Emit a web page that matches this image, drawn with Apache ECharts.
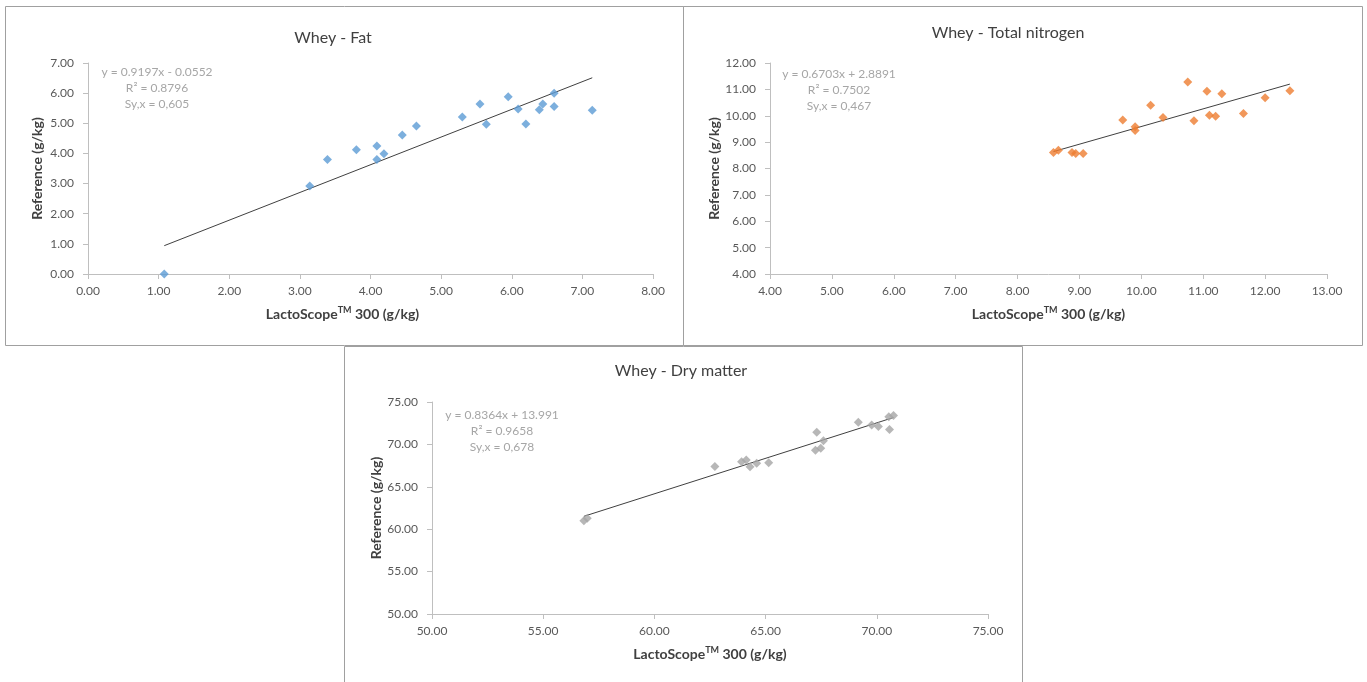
<!DOCTYPE html>
<html>
<head>
<meta charset="utf-8">
<script src="https://cdn.jsdelivr.net/npm/echarts@6/dist/echarts.min.js"></script>
<style>
    html, body { margin: 0; padding: 0; background: #fff; }
    #chart { width: 1367px; height: 682px; }
</style>
</head>
<body>
<div id="chart"></div>
<script>
    // values
    var fatPoints = [
        [1.08, 0.00], [3.14, 2.92], [3.39, 3.80], [3.80, 4.12], [4.09, 4.25],
        [4.09, 3.80], [4.19, 3.99], [4.45, 4.61], [4.65, 4.91], [5.30, 5.21],
        [5.55, 5.64], [5.64, 4.97], [5.95, 5.88], [6.09, 5.47], [6.20, 4.98],
        [6.39, 5.45], [6.44, 5.64], [6.60, 6.00], [6.60, 5.56], [7.14, 5.43]
    ];
    var nitrogenPoints = [
        [8.58, 8.61], [8.66, 8.69], [8.88, 8.61], [8.94, 8.57], [9.06, 8.57],
        [9.70, 9.84], [9.90, 9.58], [9.90, 9.44], [10.15, 10.40], [10.35, 9.93],
        [10.75, 11.28], [10.85, 9.81], [11.06, 10.93], [11.10, 10.02], [11.20, 9.98],
        [11.30, 10.83], [11.65, 10.09], [12.00, 10.68], [12.40, 10.95]
    ];
    var dryMatterPoints = [
        [56.83, 61.00], [56.98, 61.28], [62.72, 67.40], [63.92, 67.96], [64.13, 68.16],
        [64.30, 67.35], [64.60, 67.77], [65.14, 67.85], [67.24, 69.30], [67.30, 71.43],
        [67.48, 69.54], [67.60, 70.44], [69.17, 72.62], [69.77, 72.29], [70.07, 72.10],
        [70.57, 71.75], [70.54, 73.27], [70.75, 73.42]
    ];
    // trend line ends as drawn
    var fatTrend = [[1.08, 0.94], [7.14, 6.51]];
    var nitrogenTrend = [[8.58, 8.64], [12.40, 11.20]];
    var dryMatterTrend = [[56.83, 61.52], [70.75, 73.17]];

    var titles = ['Whey - Fat', 'Whey - Total nitrogen', 'Whey - Dry matter'];
    var fits = [
        ['y = 0.9197x - 0.0552', 'R² = 0.8796', 'Sy,x = 0,605'],
        ['y = 0.6703x + 2.8891', 'R² = 0.7502', 'Sy,x = 0,467'],
        ['y = 0.8364x + 13.991', 'R² = 0.9658', 'Sy,x = 0,678']
    ];
    var xRanges = [[0, 8, 1], [4, 13, 1], [50, 75, 5]];
    var yRanges = [[0, 7, 1], [4, 12, 1], [50, 75, 5]];
    var colors = ['#5B9BD5', '#ED7D31', '#A5A5A5'];

    var font = 'Lato, "Open Sans", sans-serif';
    var grids = [
        {left: 88, top: 63, width: 565, height: 211},
        {left: 770, top: 63, width: 557, height: 211},
        {left: 432, top: 402, width: 556, height: 212}
    ];
    var boxes = [
        {x: 5.5, y: 6.5, width: 678, height: 339},
        {x: 683.5, y: 6.5, width: 679, height: 339},
        {x: 344.5, y: 346.5, width: 678, height: 340}
    ];
    var titlePos = [[333, 38], [1008, 33], [681, 371]];
    var fitPos = [[157, 64], [839, 66], [502, 407]];

    function axisBase(r) {
        return {
            min: r[0], max: r[1], interval: r[2],
            splitLine: {show: false},
            axisLine: {show: true, onZero: false, lineStyle: {color: '#BFBFBF'}},
            axisTick: {show: true, length: 5, lineStyle: {color: '#BFBFBF'}},
            axisLabel: {
                color: '#595959', fontSize: 12, fontFamily: font,
                formatter: function (v) { return v.toFixed(2); }
            }
        };
    }

    var xAxes = [], yAxes = [], series = [], graphics = [];
    var allPoints = [fatPoints, nitrogenPoints, dryMatterPoints];
    var allTrends = [fatTrend, nitrogenTrend, dryMatterTrend];

    for (var i = 0; i < 3; i++) {
        var xa = axisBase(xRanges[i]);
        xa.gridIndex = i;
        xa.type = 'value';
        xa.axisLabel.margin = 11;
        xa.name = 'LactoScope{sup|TM} 300 (g/kg)';
        xa.nameLocation = 'middle';
        xa.nameGap = 32;
        xa.nameTextStyle = {
            color: '#404040', fontSize: 14, fontWeight: 'bold', fontFamily: font,
            padding: i === 0 ? [0, 56, 0, 0] : 0,
            rich: {sup: {fontSize: 9, fontWeight: 'bold', color: '#404040', verticalAlign: 'top', padding: [0, 0, 7, 0]}}
        };
        xAxes.push(xa);

        var ya = axisBase(yRanges[i]);
        ya.gridIndex = i;
        ya.type = 'value';
        ya.axisLabel.margin = 14;
        ya.name = 'Reference (g/kg)';
        ya.nameLocation = 'middle';
        ya.nameGap = 44;
        ya.nameTextStyle = {color: '#404040', fontSize: 14, fontWeight: 'bold', fontFamily: font};
        yAxes.push(ya);

        series.push({
            type: 'scatter',
            xAxisIndex: i, yAxisIndex: i,
            symbol: 'diamond', symbolSize: 9,
            itemStyle: {color: colors[i]},
            data: allPoints[i],
            z: 3
        });
        series.push({
            type: 'line',
            xAxisIndex: i, yAxisIndex: i,
            showSymbol: false,
            lineStyle: {color: '#404040', width: 1},
            data: allTrends[i],
            z: 2
        });

        graphics.push({
            type: 'rect', shape: boxes[i],
            style: {fill: 'none', stroke: '#A0A0A0', lineWidth: 1}
        });
        graphics.push({
            type: 'text', x: titlePos[i][0], y: titlePos[i][1],
            style: {
                text: titles[i], fill: '#404040', fontSize: 16, fontFamily: font,
                textAlign: 'center', textVerticalAlign: 'middle'
            }
        });
        graphics.push({
            type: 'text', x: fitPos[i][0], y: fitPos[i][1],
            style: {
                text: fits[i].join('\n'), fill: '#A6A6A6', fontSize: 12, fontFamily: font,
                lineHeight: 16, textAlign: 'center', textVerticalAlign: 'top'
            }
        });
    }

    var chart = echarts.init(document.getElementById('chart'));
    chart.setOption({
        backgroundColor: '#fff',
        animation: false,
        grid: grids,
        xAxis: xAxes,
        yAxis: yAxes,
        series: series,
        graphic: graphics
    });
</script>
</body>
</html>
